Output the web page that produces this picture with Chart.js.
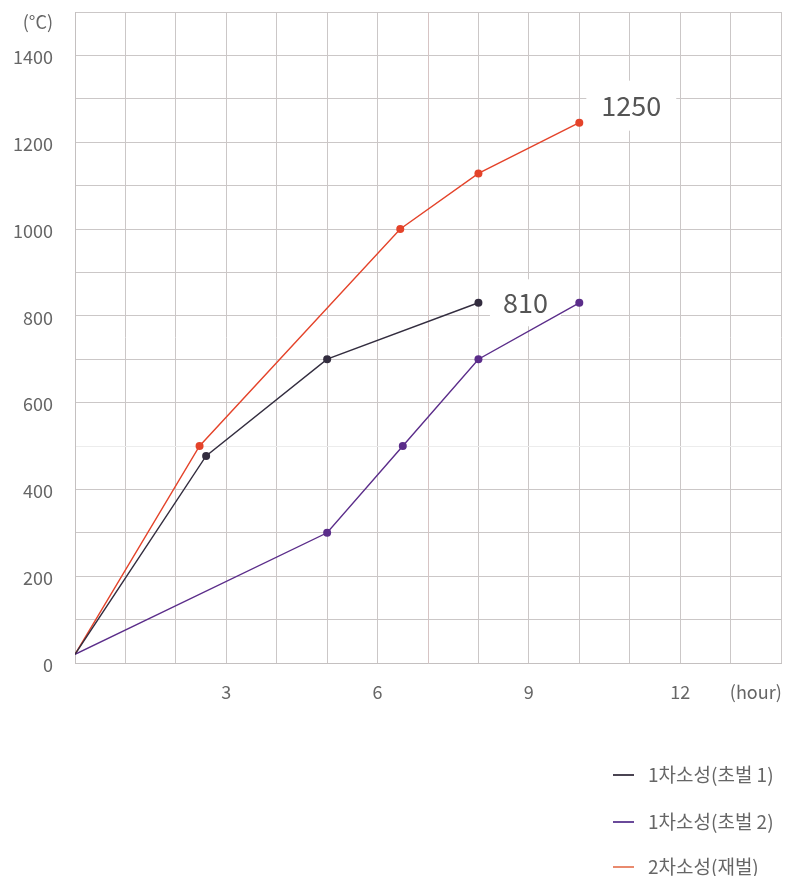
<!DOCTYPE html>
<html>
<head>
<meta charset="utf-8">
<script src="https://cdn.jsdelivr.net/npm/chart.js@4/dist/chart.umd.min.js"></script>
<style>
  html, body { margin: 0; padding: 0; background: #fff; }
  #wrap { position: relative; width: 785px; height: 876px; }
  canvas { position: absolute; left: 0; top: 0; }
  #legend { position: absolute; left: 613px; top: 760px; font-family: "Noto Sans CJK KR", "Noto Sans", sans-serif; font-size: 19px; color: #666; }
  .item { position: absolute; left: 0; white-space: nowrap; height: 28px; line-height: 28px; }
  .swatch { position: absolute; left: 0; top: 14px; width: 21px; height: 2px; }
  .txt { position: absolute; left: 35px; top: 0; }
</style>
</head>
<body>
<div id="wrap">
  <canvas id="c" width="785" height="876"></canvas>
  <div id="legend"></div>
</div>
<script>
// ---- data ----
const seriesNames = ['1차소성(초벌 1)', '1차소성(초벌 2)', '2차소성(재벌)'];
const hours1 = [0, 2.6, 5, 8];
const temps1 = [20, 477, 700, 830];
const hours2 = [0, 5, 6.5, 8, 10];
const temps2 = [20, 300, 500, 700, 830];
const hours3 = [0, 2.47, 6.45, 8, 10];
const temps3 = [20, 500, 1000, 1128, 1245];
const xTickLabels = [3, 6, 9, 12];
const yTickLabels = [0, 200, 400, 600, 800, 1000, 1200, 1400];
const xUnit = '(hour)';
const yUnit = '(°C)';
const callouts = [
  { text: '810', series: 0, index: 3 },
  { text: '1250', series: 2, index: 4 }
];

const colors = ['#332d3f', '#5b2d8a', '#e4432a'];
const legendColors = ['#4a4452', '#6a4a9a', '#e98a6e'];

function toPoints(xs, ys) { return xs.map((x, i) => ({ x: x, y: ys[i] })); }
function radii(n) { return Array.from({ length: n }, (_, i) => i === 0 ? 0 : 4); }

const FONT = '"Noto Sans CJK KR", "Noto Sans", sans-serif';

function calloutGeom(chart, c, ctx) {
  const el = chart.getDatasetMeta(c.series).data[c.index];
  ctx.font = '27px ' + FONT;
  const long = c.text.length > 3;
  const w = ctx.measureText(c.text).width + (long ? 30 : 26);
  const h = long ? 50 : 47;
  const cx = el.x + (long ? 52 : 47);
  const cy = el.y + (long ? -17 : 0);
  return { cx, cy, w, h };
}

const extraText = {
  id: 'extraText',
  beforeDatasetsDraw(chart) {
    const ctx = chart.ctx;
    ctx.save();
    callouts.forEach(c => {
      const g = calloutGeom(chart, c, ctx);
      ctx.fillStyle = '#fff';
      ctx.fillRect(g.cx - g.w / 2, g.cy - g.h / 2, g.w, g.h);
    });
    ctx.restore();
  },
  afterDraw(chart) {
    const ctx = chart.ctx;
    const xs = chart.scales.x, ys = chart.scales.y;
    ctx.save();
    ctx.fillStyle = '#666';
    ctx.font = '18px ' + FONT;
    ctx.textBaseline = 'middle';
    ctx.textAlign = 'center';
    ctx.fillText(xUnit, xs.getPixelForValue(13.5), xs.top + 29);
    ctx.textAlign = 'right';
    ctx.fillText(yUnit, ys.right - 22, ys.getPixelForValue(1500) + 10);
    callouts.forEach(c => {
      const g = calloutGeom(chart, c, ctx);
      ctx.fillStyle = '#555';
      ctx.textAlign = 'center';
      ctx.textBaseline = 'middle';
      ctx.fillText(c.text, g.cx, g.cy);
    });
    ctx.restore();
  }
};

const datasets = [
  { label: seriesNames[0], data: toPoints(hours1, temps1), borderColor: colors[0], backgroundColor: colors[0], pointRadius: radii(hours1.length) },
  { label: seriesNames[1], data: toPoints(hours2, temps2), borderColor: colors[1], backgroundColor: colors[1], pointRadius: radii(hours2.length) },
  { label: seriesNames[2], data: toPoints(hours3, temps3), borderColor: colors[2], backgroundColor: colors[2], pointRadius: radii(hours3.length) }
].map(d => Object.assign(d, { borderWidth: 1.4, pointBorderWidth: 0, pointHoverRadius: 4, tension: 0, fill: false }));

new Chart(document.getElementById('c'), {
  type: 'line',
  data: { datasets: datasets },
  options: {
    responsive: false,
    animation: false,
    devicePixelRatio: 1,
    layout: { padding: { top: 12, right: 1, left: 0, bottom: 0 } },
    plugins: { legend: { display: false }, tooltip: { enabled: false } },
    scales: {
      x: {
        type: 'linear', min: 0, max: 14,
        afterFit: s => { s.height = 213; s.paddingLeft = 0; s.paddingRight = 0; s.paddingTop = 0; s.paddingBottom = 0; },
        afterBuildTicks: s => { s.ticks = Array.from({ length: 15 }, (_, i) => ({ value: i })); },
        ticks: {
          autoSkip: false, maxRotation: 0, padding: 18,
          color: '#666', font: { family: FONT, size: 18 },
          callback: v => xTickLabels.includes(v) ? String(v) : ''
        },
        grid: {
          drawTicks: false,
          color: c => c.tick && c.tick.value === 7 ? '#d6c4c4' : '#cbc7c7',
          lineWidth: 1
        },
        border: { color: '#c4c0c0' }
      },
      y: {
        type: 'linear', min: 0, max: 1500,
        afterFit: s => { s.width = 75; s.paddingLeft = 0; s.paddingRight = 0; s.paddingTop = 0; s.paddingBottom = 0; },
        afterBuildTicks: s => { s.ticks = Array.from({ length: 16 }, (_, i) => ({ value: i * 100 })); },
        ticks: {
          autoSkip: false, padding: 22, labelOffset: 2,
          color: '#666', font: { family: FONT, size: 18 },
          callback: v => yTickLabels.includes(v) ? String(v) : ''
        },
        grid: {
          drawTicks: false,
          color: c => c.tick && c.tick.value === 500 ? '#ececec' : '#cbc7c7',
          lineWidth: 1
        },
        border: { color: '#c4c0c0' }
      }
    }
  },
  plugins: [extraText]
});

// HTML legend
const lg = document.getElementById('legend');
const rowTops = [0, 47, 92];
seriesNames.forEach((n, i) => {
  const it = document.createElement('div');
  it.className = 'item';
  it.style.top = rowTops[i] + 'px';
  const sw = document.createElement('span');
  sw.className = 'swatch';
  sw.style.background = legendColors[i];
  const t = document.createElement('span');
  t.className = 'txt';
  t.textContent = n;
  it.appendChild(sw); it.appendChild(t);
  lg.appendChild(it);
});
</script>
</body>
</html>
